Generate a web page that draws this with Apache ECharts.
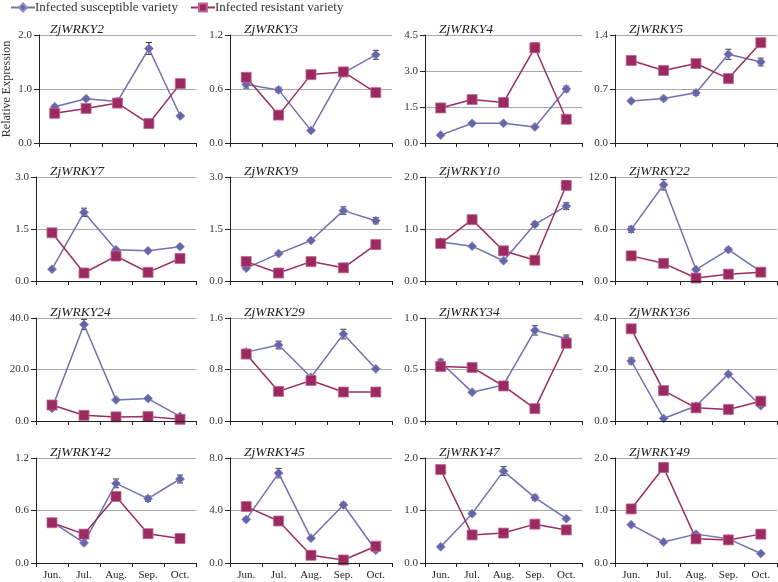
<!DOCTYPE html>
<html>
<head>
<meta charset="utf-8">
<script src="https://cdn.jsdelivr.net/npm/echarts@6/dist/echarts.min.js"></script>
<style>html,body{margin:0;padding:0;background:#fff}#c{width:778px;height:582px}</style>
</head>
<body>
<div id="c"></div>
<script>
// ---- data ----
var months = ['Jun.', 'Jul.', 'Aug.', 'Sep.', 'Oct.'];
var genes = ['ZjWRKY2','ZjWRKY3','ZjWRKY4','ZjWRKY5','ZjWRKY7','ZjWRKY9','ZjWRKY10','ZjWRKY22',
             'ZjWRKY24','ZjWRKY29','ZjWRKY34','ZjWRKY36','ZjWRKY42','ZjWRKY45','ZjWRKY47','ZjWRKY49'];
var yMax = [2.0, 1.2, 4.5, 1.4, 3.0, 3.0, 2.0, 12.0, 40.0, 1.6, 1.0, 4.0, 1.2, 8.0, 2.0, 2.0];
var yStep = [1.0, 0.6, 1.5, 0.7, 1.5, 1.5, 1.0, 6.0, 20.0, 0.8, 0.5, 2.0, 0.6, 4.0, 1.0, 1.0];
var seriesNames = ['Infected susceptible variety', 'Infected resistant variety'];
var susceptible = [
  [0.67, 0.82, 0.77, 1.75, 0.50],
  [0.65, 0.59, 0.14, 0.78, 0.98],
  [0.33, 0.82, 0.82, 0.67, 2.25],
  [0.545, 0.576, 0.65, 1.15, 1.05],
  [0.34, 1.98, 0.90, 0.87, 0.99],
  [0.37, 0.79, 1.17, 2.03, 1.74],
  [0.75, 0.67, 0.39, 1.09, 1.44],
  [5.96, 11.1, 1.32, 3.62, 1.09],
  [4.9, 37.5, 8.2, 8.7, 1.8],
  [1.07, 1.18, 0.68, 1.35, 0.81],
  [0.57, 0.28, 0.35, 0.88, 0.80],
  [2.33, 0.10, 0.58, 1.82, 0.59],
  [0.47, 0.23, 0.91, 0.735, 0.96],
  [3.32, 6.85, 1.89, 4.42, 0.97],
  [0.31, 0.94, 1.75, 1.245, 0.845],
  [0.73, 0.40, 0.55, 0.46, 0.18]
];
var resistant = [
  [0.55, 0.64, 0.74, 0.36, 1.10],
  [0.73, 0.31, 0.76, 0.79, 0.56],
  [1.46, 1.81, 1.69, 3.97, 0.99],
  [1.07, 0.94, 1.03, 0.835, 1.30],
  [1.39, 0.23, 0.72, 0.25, 0.65],
  [0.56, 0.23, 0.56, 0.38, 1.05],
  [0.72, 1.18, 0.58, 0.40, 1.84],
  [2.9, 2.04, 0.34, 0.79, 1.02],
  [6.2, 2.2, 1.6, 1.7, 0.65],
  [1.04, 0.46, 0.63, 0.45, 0.45],
  [0.53, 0.52, 0.34, 0.12, 0.755],
  [3.58, 1.18, 0.51, 0.45, 0.77],
  [0.46, 0.33, 0.76, 0.335, 0.28],
  [4.30, 3.2, 0.59, 0.23, 1.28],
  [1.78, 0.535, 0.57, 0.74, 0.63],
  [1.03, 1.82, 0.46, 0.44, 0.55]
];
var susceptibleErr = [
  [0.03,0.03,0.02,0.11,0.02],
  [0.04,0.03,0.02,0.03,0.05],
  [0.05,0.05,0.05,0.05,0.12],
  [0.02,0.02,0.03,0.065,0.05],
  [0.03,0.12,0.04,0.03,0.04],
  [0.03,0.04,0.05,0.11,0.09],
  [0.03,0.02,0.02,0.045,0.065],
  [0.35,0.6,0.15,0.2,0.1],
  [0.5,2.0,0.5,0.6,0.3],
  [0.045,0.06,0.02,0.075,0.02],
  [0.03,0.01,0.015,0.045,0.035],
  [0.12,0.04,0.05,0.07,0.05],
  [0.02,0.02,0.05,0.03,0.045],
  [0.15,0.36,0.1,0.2,0.1],
  [0.02,0.04,0.085,0.05,0.03],
  [0.02,0.02,0.02,0.02,0.02]
];
var resistantErr = [
  [0.03,0.02,0.03,0.02,0.04],
  [0.03,0.03,0.02,0.03,0.02],
  [0.06,0.07,0.05,0.2,0.06],
  [0.03,0.02,0.02,0.02,0.045],
  [0.05,0.03,0.04,0.03,0.03],
  [0.03,0.02,0.03,0.03,0.04],
  [0.02,0.03,0.02,0.02,0.09],
  [0.15,0.1,0.05,0.05,0.05],
  [0.5,0.3,0.2,0.2,0.1],
  [0.03,0.02,0.02,0.02,0.02],
  [0.02,0.01,0.02,0.01,0.03],
  [0.15,0.06,0.05,0.04,0.05],
  [0.02,0.02,0.02,0.02,0.02],
  [0.1,0.1,0.05,0.05,0.1],
  [0.06,0.02,0.02,0.02,0.02],
  [0.03,0.085,0.02,0.02,0.02]
];

// ---- layout ----
var colLeft = [36, 230, 425, 615];
var colRight = [196, 392, 582, 777];
var rowTop = [35, 177, 318, 458];
var rowBottom = [143, 281, 421, 563];
var FONT = 'Liberation Serif, Times New Roman, serif';
var C_SUS = '#7070B2';
var C_RES = '#9B2C61';

var grids = [], xAxes = [], yAxes = [], titles = [], series = [];

function errRender(params, api) {
  var x = api.value(0), v = api.value(1), e = api.value(2);
  if (!e) return null;
  var hi = api.coord([x, v + e]), lo = api.coord([x, v - e]);
  var hw = 3;
  var st = { stroke: '#333', lineWidth: 1 };
  return { type: 'group', children: [
    { type: 'line', shape: { x1: hi[0], y1: hi[1], x2: lo[0], y2: lo[1] }, style: st },
    { type: 'line', shape: { x1: hi[0] - hw, y1: hi[1], x2: hi[0] + hw, y2: hi[1] }, style: st },
    { type: 'line', shape: { x1: lo[0] - hw, y1: lo[1], x2: lo[0] + hw, y2: lo[1] }, style: st }
  ]};
}

for (var i = 0; i < genes.length; i++) {
  var r = Math.floor(i / 4), c = i % 4;
  grids.push({
    left: colLeft[c], top: rowTop[r],
    width: colRight[c] - colLeft[c], height: rowBottom[r] - rowTop[r],
    containLabel: false
  });
  xAxes.push({
    type: 'category', gridIndex: i, data: months, boundaryGap: true,
    axisLine: { show: true, lineStyle: { color: '#222', width: 1 } },
    axisTick: { show: true, length: 4, alignWithLabel: false, lineStyle: { color: '#222' } },
    axisLabel: { show: r === 3, fontFamily: FONT, fontSize: 11, color: '#222', margin: 7 },
    splitLine: { show: false }, z: 5
  });
  yAxes.push({
    type: 'value', gridIndex: i, min: 0, max: yMax[i], interval: yStep[i],
    axisLine: { show: true, lineStyle: { color: '#222', width: 1 } },
    axisTick: { show: true, length: 5, inside: false, lineStyle: { color: '#222' } },
    axisLabel: { fontFamily: FONT, fontSize: 11, color: '#333', margin: 7,
      formatter: function (v) { return v.toFixed(1); } },
    splitLine: { show: true, lineStyle: { color: '#A8A8A8', width: 1 } },
    name: (i === 0 ? 'Relative Expression' : ''), nameLocation: 'middle', nameGap: 26,
    nameRotate: 90,
    nameTextStyle: { fontFamily: FONT, fontSize: 12, color: '#333' }
  });
  titles.push({
    text: genes[i], left: colLeft[c] + 9, top: rowTop[r] - 18,
    textStyle: { fontFamily: FONT, fontStyle: 'italic', fontWeight: 'normal', fontSize: 13.5, color: '#222' }
  });
  series.push({
    name: seriesNames[0], type: 'line', xAxisIndex: i, yAxisIndex: i,
    data: susceptible[i], symbol: 'diamond', symbolSize: 9,
    lineStyle: { color: C_SUS, width: 1.5 },
    itemStyle: { color: '#6565A9', borderColor: '#8C8CC6', borderWidth: 0.8 },
    z: 3, animation: false
  });
  series.push({
    name: seriesNames[1], type: 'line', xAxisIndex: i, yAxisIndex: i,
    data: resistant[i], symbol: 'rect', symbolSize: 10,
    lineStyle: { color: C_RES, width: 1.5 },
    itemStyle: { color: '#9A2A60', borderColor: '#C0648F', borderWidth: 0.8 },
    z: 4, animation: false
  });
  var eData = [];
  for (var k = 0; k < months.length; k++) {
    eData.push([k, susceptible[i][k], susceptibleErr[i][k]]);
    eData.push([k, resistant[i][k], resistantErr[i][k]]);
  }
  series.push({
    type: 'custom', xAxisIndex: i, yAxisIndex: i, renderItem: errRender,
    data: eData, encode: { x: 0, y: 1 }, z: 2, silent: true, animation: false
  });
}

var chart = echarts.init(document.getElementById('c'), null, { renderer: 'canvas' });
chart.setOption({
  backgroundColor: '#ffffff',
  animation: false,
  title: titles,
  legend: {
    data: seriesNames, left: 5, top: -4, itemWidth: 24, itemHeight: 10, itemGap: 12,
    textStyle: { fontFamily: FONT, fontSize: 13, color: '#333', padding: [0, 0, 0, -5] }
  },
  grid: grids,
  xAxis: xAxes,
  yAxis: yAxes,
  series: series
});
</script>
</body>
</html>
